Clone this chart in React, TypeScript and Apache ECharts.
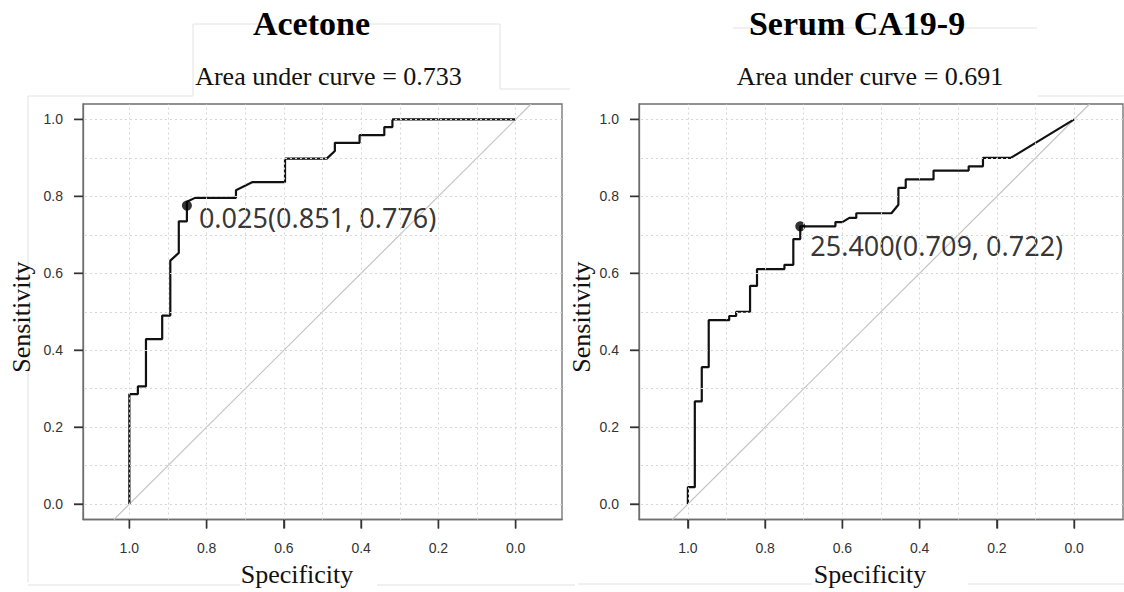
import React, { useEffect, useRef } from "react";
import * as echarts from "echarts";

const titles = ["Acetone", "Serum CA19-9"];
const aucValues = [0.733, 0.691];

const acetoneSpecificity = [
  1.0, 1.0, 0.978, 0.978, 0.957, 0.957, 0.915, 0.915, 0.894, 0.894, 0.872, 0.872,
  0.851, 0.851, 0.851, 0.83, 0.724, 0.724, 0.681, 0.597, 0.597, 0.489, 0.468, 0.468,
  0.404, 0.404, 0.34, 0.34, 0.319, 0.319, 0.0,
];
const acetoneSensitivity = [
  0.0, 0.286, 0.286, 0.306, 0.306, 0.429, 0.429, 0.49, 0.49, 0.633, 0.653, 0.735,
  0.735, 0.776, 0.786, 0.796, 0.796, 0.816, 0.837, 0.837, 0.898, 0.898, 0.918, 0.939,
  0.939, 0.959, 0.959, 0.98, 0.98, 1.0, 1.0,
];

const ca199Specificity = [
  1.0, 1.0, 0.982, 0.982, 0.964, 0.964, 0.946, 0.946, 0.893, 0.893, 0.875, 0.875,
  0.839, 0.839, 0.821, 0.821, 0.75, 0.75, 0.727, 0.727, 0.709, 0.709, 0.618, 0.618,
  0.6, 0.582, 0.564, 0.564, 0.473, 0.455, 0.455, 0.436, 0.436, 0.364, 0.364, 0.273,
  0.273, 0.236, 0.236, 0.164, 0.0,
];
const ca199Sensitivity = [
  0.0, 0.044, 0.044, 0.267, 0.267, 0.356, 0.356, 0.478, 0.478, 0.489, 0.489, 0.5,
  0.5, 0.567, 0.567, 0.611, 0.611, 0.622, 0.622, 0.689, 0.689, 0.722, 0.722, 0.733,
  0.733, 0.744, 0.744, 0.756, 0.756, 0.778, 0.822, 0.822, 0.844, 0.844, 0.867, 0.867,
  0.878, 0.878, 0.9, 0.9, 1.0,
];

const thresholdValues = [0.025, 25.4];
const thresholdSpecificity = [0.851, 0.709];
const thresholdSensitivity = [0.776, 0.722];

const tickValues = [0, 0.2, 0.4, 0.6, 0.8, 1.0];
const gridValues = [0, 0.1, 0.2, 0.3, 0.4, 0.5, 0.6, 0.7, 0.8, 0.9, 1.0];
const chanceLine = [
  [1.04, -0.04],
  [-0.04, 1.04],
];

const specRanges = [
  [-0.12, 1.12],
  [-0.1265, 1.1265],
];
const sensRange = [-0.04, 1.04];

const panels = [
  { spec: acetoneSpecificity, sens: acetoneSensitivity },
  { spec: ca199Specificity, sens: ca199Sensitivity },
];

const labelOffsets = [
  { distance: 7, offset: [0, 12] },
  { distance: 5, offset: [0, 19] },
];

const serif = "'Liberation Serif', 'DejaVu Serif', serif";
const sans = "'Liberation Sans', Arial, sans-serif";
const TICK_LEN = 9;

export default function App() {
  const ref = useRef<HTMLDivElement>(null);

  useEffect(() => {
    if (!ref.current) return;
    const chart = echarts.init(ref.current, undefined, { renderer: "svg" });

    const grids = [
      { left: 83, top: 104, width: 479, height: 415.5 },
      { left: 639, top: 104, width: 484, height: 415.5 },
    ].map((g) => ({
      ...g,
      show: true,
      borderColor: "#6e6e6e",
      borderWidth: 1.3,
    }));

    const makeTick = () => ({
      show: true,
      customValues: tickValues.slice(),
      length: TICK_LEN,
      lineStyle: { color: "#333", width: 1.4 },
    });
    const makeLabel = (margin: number) => ({
      show: true,
      customValues: tickValues.slice(),
      margin,
      fontFamily: sans,
      fontSize: 14,
      color: "#333",
      formatter: (v: number) => v.toFixed(1),
    });

    const xAxes = [0, 1].map((i) => ({
      type: "value",
      gridIndex: i,
      inverse: true,
      min: specRanges[i][0],
      max: specRanges[i][1],
      axisLine: { show: true, onZero: false, lineStyle: { color: "#6e6e6e", width: 1.3 } },
      splitLine: { show: false },
      axisTick: makeTick(),
      axisLabel: makeLabel(21),
    }));

    const yAxes = [0, 1].map((i) => ({
      type: "value",
      gridIndex: i,
      min: sensRange[0],
      max: sensRange[1],
      axisLine: { show: true, onZero: false, lineStyle: { color: "#6e6e6e", width: 1.3 } },
      splitLine: { show: false },
      axisTick: makeTick(),
      axisLabel: makeLabel(20),
    }));

    const series: any[] = [];
    panels.forEach((p, i) => {
      series.push({
        type: "line",
        xAxisIndex: i,
        yAxisIndex: i,
        data: chanceLine,
        symbol: "none",
        clip: true,
        lineStyle: { color: "#c4c4c4", width: 1.2 },
        markLine: {
          silent: true,
          symbol: ["none", "none"],
          label: { show: false },
          lineStyle: { color: "#d6d6d6", type: [2, 3], width: 1 },
          data: [
            ...gridValues.map((v) => ({ xAxis: v })),
            ...gridValues.map((v) => ({ yAxis: v })),
          ],
        },
        z: 1,
      });
      series.push({
        type: "line",
        xAxisIndex: i,
        yAxisIndex: i,
        data: p.spec.map((s, k) => [s, p.sens[k]]),
        symbol: "none",
        lineStyle: { color: "#111", width: 2.2 },
        z: 3,
      });
      const lbl = `${thresholdValues[i].toFixed(3)}(${thresholdSpecificity[i].toFixed(3)}, ${thresholdSensitivity[i].toFixed(3)})`;
      series.push({
        type: "scatter",
        xAxisIndex: i,
        yAxisIndex: i,
        symbolSize: 10,
        itemStyle: { color: "#000" },
        data: [[thresholdSpecificity[i], thresholdSensitivity[i]]],
        label: {
          show: true,
          position: "right",
          distance: labelOffsets[i].distance,
          offset: labelOffsets[i].offset,
          formatter: () => lbl,
          fontFamily: "'Noto Sans', 'Open Sans', sans-serif",
          fontSize: 27,
          color: "#000",
        },
        z: 4,
      });
    });

    chart.setOption({
      animation: false,
      backgroundColor: "#ffffff",
      grid: grids,
      xAxis: xAxes,
      yAxis: yAxes,
      series,
    });

    const titleX = [311.5, 857];
    const aucX = [328.5, 870];
    const sensX = [21, 581];
    const specX = [297, 870];

    const frame = { stroke: "#e2e2e2", lineWidth: 1, fill: "none" };
    const graphics: any[] = [
      { type: "polyline", shape: { points: [[28, 582], [28, 96], [193, 96]] }, style: frame, silent: true },
      { type: "polyline", shape: { points: [[193, 96], [193, 24], [500, 24], [500, 89], [570, 89]] }, style: frame, silent: true },
      { type: "line", shape: { x1: 28, y1: 585, x2: 240, y2: 585 }, style: frame, silent: true },
      { type: "line", shape: { x1: 377, y1: 585, x2: 575, y2: 585 }, style: frame, silent: true },
      { type: "line", shape: { x1: 578, y1: 584, x2: 812, y2: 584 }, style: frame, silent: true },
      { type: "line", shape: { x1: 968, y1: 584, x2: 1124, y2: 584 }, style: frame, silent: true },
      { type: "line", shape: { x1: 733, y1: 28, x2: 1037, y2: 28 }, style: frame, silent: true },
      { type: "line", shape: { x1: 1038, y1: 96, x2: 1124, y2: 96 }, style: frame, silent: true },
    ];

    // outward tick marks positioned through the axes' own scales
    const tickStyle = { stroke: "#333", lineWidth: 1.4 };
    [0, 1].forEach((i) => {
      const finder = { xAxisIndex: i, yAxisIndex: i };
      tickValues.forEach((v) => {
        const px = chart.convertToPixel(finder as any, [v, sensRange[0]]) as number[];
        const py = chart.convertToPixel(finder as any, [specRanges[i][1], v]) as number[];
        if (px && isFinite(px[0]) && isFinite(px[1])) {
          graphics.push({
            type: "line",
            silent: true,
            z: 10,
            shape: { x1: px[0], y1: px[1], x2: px[0], y2: px[1] + TICK_LEN },
            style: tickStyle,
          });
        }
        if (py && isFinite(py[0]) && isFinite(py[1])) {
          graphics.push({
            type: "line",
            silent: true,
            z: 10,
            shape: { x1: py[0], y1: py[1], x2: py[0] - TICK_LEN, y2: py[1] },
            style: tickStyle,
          });
        }
      });
    });

    [0, 1].forEach((i) => {
      graphics.push({
        type: "text",
        x: titleX[i],
        y: 23,
        style: {
          text: titles[i],
          fontFamily: serif,
          fontWeight: "bold",
          fontSize: 34,
          fill: "#000",
          align: "center",
          verticalAlign: "middle",
        },
      });
      graphics.push({
        type: "text",
        x: aucX[i],
        y: 76,
        style: {
          text: `Area under curve = ${aucValues[i].toFixed(3)}`,
          fontFamily: serif,
          fontSize: 26,
          fill: "#111",
          align: "center",
          verticalAlign: "middle",
        },
      });
      graphics.push({
        type: "text",
        x: sensX[i],
        y: 317,
        rotation: Math.PI / 2,
        style: {
          text: "Sensitivity",
          fontFamily: serif,
          fontSize: 26,
          fill: "#111",
          align: "center",
          verticalAlign: "middle",
        },
      });
      graphics.push({
        type: "text",
        x: specX[i],
        y: 574,
        style: {
          text: "Specificity",
          fontFamily: serif,
          fontSize: 26,
          fill: "#111",
          align: "center",
          verticalAlign: "middle",
        },
      });
    });

    chart.setOption({ graphic: graphics });

    return () => chart.dispose();
  }, []);

  return (
    <div
      ref={ref}
      style={{ position: "fixed", left: 0, top: 0, width: 1124, height: 592 }}
    />
  );
}
